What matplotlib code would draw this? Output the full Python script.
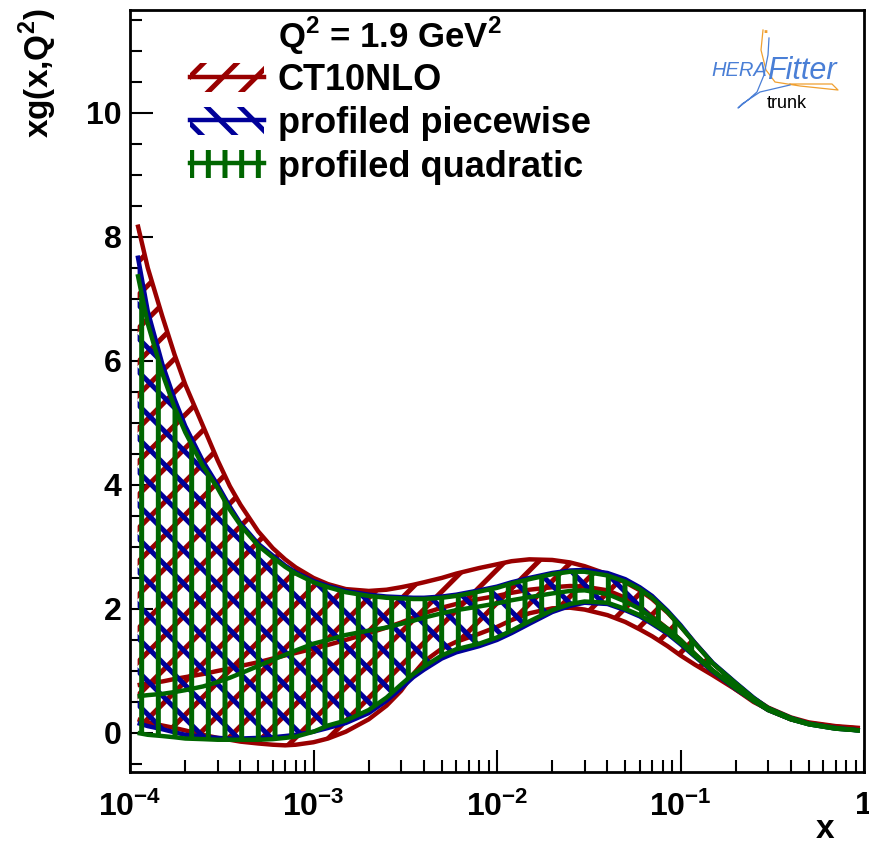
import matplotlib

matplotlib.use("Agg")
import matplotlib.pyplot as plt
from matplotlib.legend_handler import HandlerTuple
from matplotlib.lines import Line2D
from matplotlib.patches import Patch

# x grid and band edges
x = [1.1e-4, 1.25e-4, 1.5e-4, 1.75e-4, 2e-4, 2.5e-4, 3e-4, 3.5e-4, 4e-4,
     5e-4, 6e-4, 7e-4, 8e-4, 1e-3, 1.2e-3, 1.5e-3, 2e-3, 2.5e-3, 3e-3,
     3.5e-3, 4e-3, 5e-3, 6e-3, 8e-3, 1e-2, 1.2e-2, 1.5e-2, 2e-2, 2.5e-2,
     3e-2, 4e-2, 5e-2, 6e-2, 7e-2, 8.5e-2, 0.1, 0.12, 0.15, 0.2, 0.25,
     0.3, 0.4, 0.5, 0.7, 0.95]

ct10_up = [8.2, 7.5, 6.72, 6.1, 5.62, 4.95, 4.4, 3.98, 3.68,
           3.25, 2.98, 2.8, 2.67, 2.5, 2.4, 2.32, 2.29, 2.31, 2.35,
           2.39, 2.43, 2.5, 2.57, 2.66, 2.72, 2.77, 2.8, 2.79, 2.75,
           2.69, 2.56, 2.43, 2.3, 2.16, 1.94, 1.72, 1.45, 1.12, 0.8, 0.56,
           0.41, 0.25, 0.17, 0.11, 0.08]
ct10_mid = [0.77, 0.8, 0.83, 0.87, 0.9, 0.95, 1.0, 1.04, 1.08,
            1.14, 1.2, 1.25, 1.29, 1.36, 1.42, 1.5, 1.61, 1.7, 1.78,
            1.86, 1.93, 2.02, 2.08, 2.16, 2.21, 2.26, 2.31, 2.35, 2.37,
            2.36, 2.3, 2.18, 2.04, 1.88, 1.68, 1.5, 1.27, 1.0, 0.7, 0.5,
            0.38, 0.22, 0.15, 0.1, 0.07]
ct10_lo = [0.22, 0.17, 0.12, 0.08, 0.04, -0.03, -0.08, -0.11, -0.14,
           -0.17, -0.19, -0.2, -0.19, -0.15, -0.09, 0.02, 0.22, 0.44, 0.68,
           0.95, 1.15, 1.36, 1.47, 1.6, 1.71, 1.82, 1.93, 2.01, 2.02,
           1.99, 1.9, 1.79, 1.67, 1.56, 1.4, 1.25, 1.1, 0.93, 0.7, 0.52,
           0.37, 0.22, 0.16, 0.1, 0.07]

pw_up = [7.7, 6.8, 5.95, 5.38, 4.95, 4.38, 4.0, 3.65, 3.38,
         3.05, 2.86, 2.7, 2.59, 2.45, 2.37, 2.29, 2.23, 2.2, 2.19,
         2.18, 2.18, 2.2, 2.23, 2.3, 2.36, 2.43, 2.5, 2.58, 2.62,
         2.63, 2.58, 2.48, 2.35, 2.21, 1.97, 1.74, 1.45, 1.13, 0.81, 0.57,
         0.4, 0.24, 0.15, 0.08, 0.04]
pw_lo = [0.16, 0.11, 0.06, 0.01, -0.03, -0.06, -0.08, -0.09, -0.09,
         -0.08, -0.07, -0.05, -0.03, 0.02, 0.08, 0.16, 0.32, 0.52, 0.72,
         0.9, 1.02, 1.2, 1.3, 1.4, 1.5, 1.61, 1.76, 1.95, 2.05,
         2.1, 2.08, 1.98, 1.88, 1.76, 1.6, 1.43, 1.23, 0.99, 0.71, 0.52,
         0.37, 0.22, 0.14, 0.07, 0.04]

quad_up = [7.4, 6.6, 5.8, 5.25, 4.85, 4.3, 3.95, 3.6, 3.35,
           3.02, 2.83, 2.68, 2.57, 2.43, 2.35, 2.27, 2.21, 2.18, 2.17,
           2.16, 2.16, 2.18, 2.21, 2.28, 2.34, 2.41, 2.48, 2.56, 2.6,
           2.6, 2.54, 2.44, 2.32, 2.18, 1.95, 1.72, 1.44, 1.12, 0.8, 0.56,
           0.4, 0.24, 0.15, 0.08, 0.04]
quad_mid = [0.59, 0.61, 0.63, 0.66, 0.69, 0.75, 0.82, 0.89, 0.96,
            1.08, 1.18, 1.26, 1.33, 1.44, 1.5, 1.58, 1.65, 1.7, 1.76,
            1.81, 1.86, 1.93, 1.98, 2.04, 2.09, 2.14, 2.19, 2.25, 2.29,
            2.3, 2.24, 2.12, 2.0, 1.86, 1.68, 1.5, 1.27, 1.01, 0.72, 0.52,
            0.38, 0.22, 0.14, 0.07, 0.04]
quad_lo = [0.0, -0.03, -0.05, -0.07, -0.09, -0.1, -0.11, -0.11, -0.11,
           -0.11, -0.1, -0.08, -0.06, 0.02, 0.12, 0.2, 0.37, 0.57, 0.78,
           0.95, 1.07, 1.25, 1.35, 1.44, 1.54, 1.65, 1.8, 1.98, 2.08,
           2.12, 2.1, 2.0, 1.9, 1.78, 1.62, 1.45, 1.24, 1.0, 0.72, 0.52,
           0.37, 0.22, 0.14, 0.07, 0.04]

labels = ["CT10NLO", "profiled piecewise", "profiled quadratic"]
xticks = [1e-4, 1e-3, 1e-2, 1e-1, 1]
xticklabels = [r"$\mathbf{10^{-4}}$", r"$\mathbf{10^{-3}}$",
               r"$\mathbf{10^{-2}}$", r"$\mathbf{10^{-1}}$", "1"]
yticks = [0, 2, 4, 6, 8, 10]

RED, BLUE, GREEN = "#990000", "#000099", "#006600"
W, H = 869, 844


def fx(px):
    return px / W


def fy(py):
    return 1 - py / H


plt.rcParams["font.family"] = ["Liberation Sans", "DejaVu Sans"]
plt.rcParams["font.weight"] = "bold"
plt.rcParams["mathtext.fontset"] = "custom"
plt.rcParams["mathtext.rm"] = "Liberation Sans:bold"
plt.rcParams["mathtext.bf"] = "Liberation Sans:bold"
plt.rcParams["hatch.linewidth"] = 3.6

fig = plt.figure(figsize=(W / 100, H / 100), dpi=100)
ax = fig.add_axes([fx(130), fy(772), fx(864) - fx(130), fy(10) - fy(772)])

bands = [
    (ct10_lo, ct10_up, ct10_mid, RED, "/"),
    (pw_lo, pw_up, None, BLUE, "\\"),
    (quad_lo, quad_up, quad_mid, GREEN, "|"),
]
handles = []
for i, (lo, up, mid, col, hatch) in enumerate(bands):
    z = 2 + 2 * i
    ax.fill_between(x, lo, up, facecolor="none", edgecolor=col, hatch=hatch,
                    linewidth=0, zorder=z)
    for curve in (up, lo, mid):
        if curve is not None:
            ax.plot(x, curve, color=col, lw=3.2, zorder=z + 1,
                    solid_joinstyle="round", solid_capstyle="butt")
    handles.append((Patch(facecolor="none", edgecolor=col, hatch=hatch,
                          linewidth=0),
                    Line2D([], [], color=col, lw=3.2)))

ax.set_xscale("log")
ax.set_xlim(1e-4, 1)
ax.set_ylim(-0.63, 11.66)
ax.set_xticks(xticks)
ax.set_xticklabels(xticklabels)
ax.set_yticks(yticks)
ax.set_yticks([v * 0.5 for v in range(-1, 24)], minor=True)
ax.tick_params(axis="both", which="both", direction="in", width=1.5,
               top=False, right=False, labelsize=23)
ax.tick_params(axis="x", which="major", length=16, pad=14)
ax.tick_params(axis="x", which="minor", length=8.5)
ax.tick_params(axis="y", which="major", length=16.5, pad=6)
ax.tick_params(axis="y", which="minor", length=8.5)
for sp in ax.spines.values():
    sp.set_linewidth(2)

fig.text(fx(38), fy(8), r"xg(x,Q$^\mathbf{2}$)", rotation=90, ha="center",
         va="top", fontsize=24)
fig.text(fx(825), fy(838), "x", ha="center", va="baseline", fontsize=24)

fig.text(fx(278), fy(48), r"Q$^\mathbf{2}$ = 1.9 GeV$^\mathbf{2}$",
         ha="left", va="baseline", fontsize=25)
ax.legend(handles, labels, handler_map={tuple: HandlerTuple(ndivide=1)},
          loc="upper left", bbox_to_anchor=(fx(190), fy(63)),
          bbox_transform=fig.transFigure, frameon=False, fontsize=26,
          borderpad=0, borderaxespad=0, handlelength=2.05, handleheight=0.83,
          handletextpad=0.38, labelspacing=0.23)

# HERAFitter logo
logo_blue, logo_orange = "#4a7fd6", "#f0a030"
fig.lines.append(Line2D([fx(p) for p in (763, 761, 766, 775, 800, 838, 832, 790)],
                        [fy(p) for p in (30, 50, 70, 82, 86, 90, 84, 84)],
                        color=logo_orange, lw=0.9, transform=fig.transFigure))
fig.lines.append(Line2D([fx(p) for p in (769, 768, 764, 757, 748, 738, 742, 760, 790)],
                        [fy(p) for p in (38, 55, 75, 92, 100, 108, 104, 92, 85)],
                        color=logo_blue, lw=0.9, transform=fig.transFigure))
fig.text(fx(765), fy(32), "\u25aa", color=logo_orange, fontsize=8,
         ha="center", va="center")
fig.text(fx(711), fy(76), "HERA", color=logo_blue, fontsize=14.5,
         style="italic", weight="normal", ha="left", va="baseline")
fig.text(fx(767), fy(79), "Fitter", color=logo_blue, fontsize=22,
         style="italic", weight="normal", ha="left", va="baseline")
fig.text(fx(767), fy(108), "trunk", color="black", fontsize=13,
         weight="normal", ha="left", va="baseline")

fig.savefig("out.png", dpi=100)
